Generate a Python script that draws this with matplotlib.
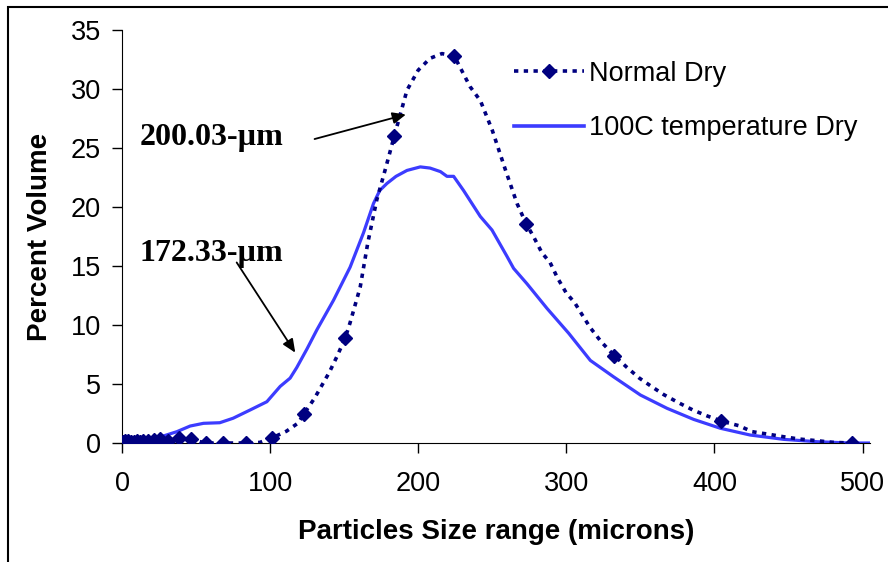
import matplotlib
matplotlib.use('Agg')
import matplotlib.pyplot as plt
from matplotlib.lines import Line2D
from matplotlib.patches import Rectangle

plt.rcParams['font.family'] = ['Liberation Sans', 'DejaVu Sans']

# Normal Dry: measured size bins (markers)
normal_x = [0.5, 2, 4, 6, 8, 10, 12, 14.3, 17.4, 21.3, 25.9, 31, 38.5, 46.4, 56.5, 68,
            83.6, 101.6, 123, 150.7, 183.8, 224.3, 272.8, 332.4, 404.7, 493]
normal_y = [0.1, 0.15, 0.15, 0.1, 0.12, 0.15, 0.1, 0.15, 0.2, 0.25, 0.3, 0.2, 0.4, 0.3, 0.0, 0.0,
            0.0, 0.45, 2.5, 8.9, 26.0, 32.8, 18.6, 7.4, 1.86, 0.0]

# Normal Dry: smoothed trace between the bins
normal_curve_x = [0.5, 2, 4, 6, 8, 10, 12, 14.3, 17.4, 21.3, 25.9, 31, 38.5, 46.4, 56.5, 68,
                  83.6, 93, 101.6, 111, 119, 123, 130, 140, 145, 150.7, 154, 160.8, 166, 172,
                  178, 183.8, 192.4, 200, 208, 216, 224.3, 235, 242, 250, 259, 266.7, 272.8,
                  277.8, 283.6, 289, 294, 300, 305.6, 310, 316, 323.4, 332.4, 341, 349.3,
                  357.4, 365.8, 376, 385.4, 395, 404.7, 416.4, 425.5, 436.7, 446.8, 457, 469,
                  479.5, 493]
normal_curve_y = [0.1, 0.15, 0.15, 0.1, 0.12, 0.15, 0.1, 0.15, 0.2, 0.25, 0.3, 0.2, 0.4, 0.3,
                  0.0, 0.0, 0.0, 0.05, 0.45, 1.0, 1.7, 2.5, 3.8, 6.0, 7.3, 8.9, 10.2, 13.2, 17.0,
                  20.6, 23.3, 26.0, 29.9, 31.6, 32.6, 33.0, 32.8, 30.2, 29.0, 26.5, 23.1, 20.3,
                  18.6, 17.5, 16.1, 15.3, 14.0, 12.7, 11.9, 11.0, 9.8, 8.6, 7.4, 6.4, 5.5, 4.8,
                  4.1, 3.4, 2.8, 2.3, 1.86, 1.47, 0.96, 0.74, 0.53, 0.34, 0.2, 0.06, 0.0]

# 100C temperature Dry
hot_x = [0, 5, 10, 15, 21, 28, 37, 46, 55, 66, 75, 86.5, 97.8, 106.8, 113.5, 118, 125, 131.6,
         142.8, 154, 163, 169.8, 174, 178.9, 185, 192.4, 201.4, 208, 215, 219.4, 223.9, 230.6,
         241.9, 249.8, 260, 264.4, 273.4, 287, 301.6, 316.2, 332, 350, 368, 386, 404, 424,
         446.8, 469.4, 492, 505.4]
hot_y = [0.1, 0.1, 0.15, 0.2, 0.4, 0.6, 0.96, 1.44, 1.67, 1.72, 2.1, 2.8, 3.5, 4.8, 5.5, 6.4,
         8.0, 9.6, 12.1, 14.9, 17.8, 20.3, 21.4, 22.0, 22.6, 23.1, 23.4, 23.3, 23.0, 22.6, 22.6,
         21.4, 19.2, 18.05, 15.8, 14.8, 13.5, 11.4, 9.3, 7.0, 5.6, 4.07, 2.94, 2.0, 1.25, 0.68,
         0.31, 0.11, 0.0, 0.0]

navy = '#000080'
blue = '#3c3cff'
dots = (0, (1.2, 1.5))

fig = plt.figure(figsize=(8.88, 5.62), dpi=100)
ax = fig.add_axes([0.1374, 0.2117, 0.9797 - 0.1374, 0.9466 - 0.2117])

ax.plot(hot_x, hot_y, color=blue, lw=2.3, zorder=2)
ax.plot(normal_curve_x, normal_curve_y, color=navy, lw=2.6, ls=dots, zorder=3)
ax.plot(normal_x, normal_y, ls='none', marker='D', ms=7, color=navy, zorder=4)

ax.set_xlim(0, 505)
ax.set_ylim(0, 35)
ax.set_xticks(range(0, 501, 100))
ax.set_yticks(range(0, 36, 5))
for s in ['top', 'right']:
    ax.spines[s].set_visible(False)
ax.tick_params(labelsize=19.5, length=7, width=1, direction='out', pad=8)
ax.tick_params(axis='x', pad=13)

ax.set_xlabel('Particles Size range (microns)', fontsize=20, fontweight='bold', labelpad=16)
ax.set_ylabel('Percent Volume', fontsize=20, fontweight='bold', labelpad=13)

handles = [Line2D([], [], color=navy, lw=2.6, ls=dots, marker='D', ms=7),
           Line2D([], [], color=blue, lw=2.6)]
ax.legend(handles, ['Normal Dry', '100C temperature Dry'], loc='upper left',
          bbox_to_anchor=(0.491, 0.985), frameon=False, fontsize=19.5, handlelength=2.6,
          handletextpad=0.2, labelspacing=1.05)

serif = ['Liberation Serif', 'DejaVu Serif']
ax.text(12, 25.9, '200.03-µm', family=serif, fontsize=23, fontweight='bold', va='center')
ax.text(12, 16.1, '172.33-µm', family=serif, fontsize=23, fontweight='bold', va='center')
ax.annotate('', xy=(193.5, 27.9), xytext=(128.2, 25.7),
            arrowprops=dict(arrowstyle='-|>,head_length=0.8,head_width=0.35', color='black', lw=1.3))
ax.annotate('', xy=(118, 7.46), xytext=(76.4, 15.5),
            arrowprops=dict(arrowstyle='-|>,head_length=0.8,head_width=0.35', color='black', lw=1.3))

# outer frame around the chart area
fig.patches.append(Rectangle((8 / 888, -0.5), 2.0, 1.5 - 7 / 562, transform=fig.transFigure,
                             fill=False, edgecolor='black', lw=1.5))

fig.savefig('out.png', dpi=100)
